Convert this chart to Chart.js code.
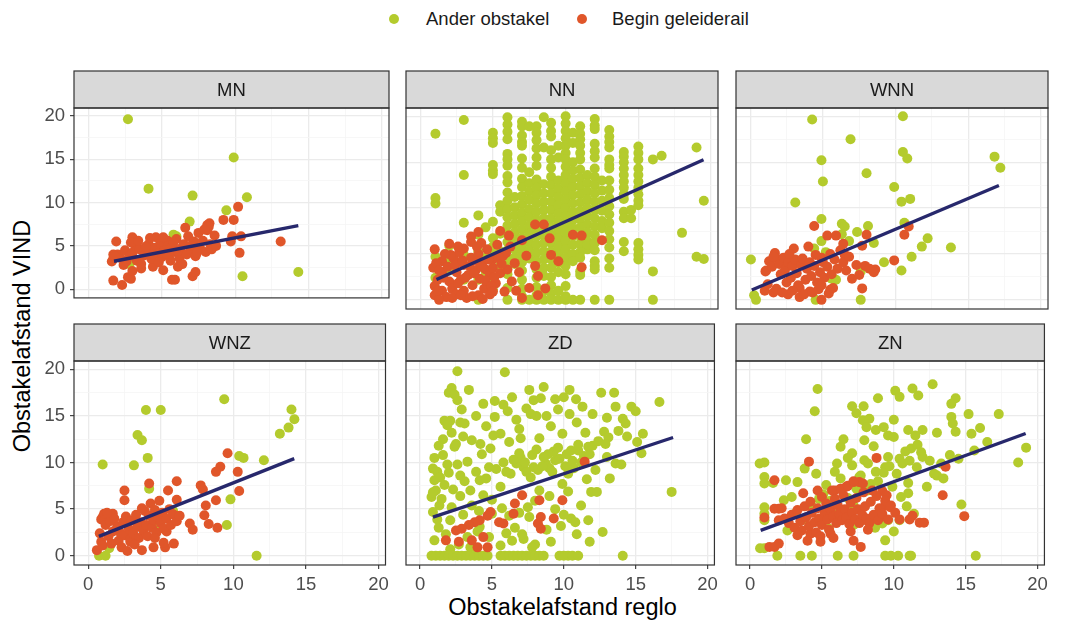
<!DOCTYPE html>
<html>
<head>
<meta charset="utf-8">
<script src="https://cdn.jsdelivr.net/npm/chart.js@4"></script>
<style>
  body { margin: 0; background: #fff; width: 1070px; height: 623px; position: relative; overflow: hidden; font-family: "Liberation Sans", Arial, sans-serif; }
  canvas { position: absolute; }
  .leg { position: absolute; top: 8px; font-size: 18.5px; color: #1a1a1a; line-height: 22px; }
  .dot { position: absolute; width: 10px; height: 10px; border-radius: 50%; top: 6px; }
  #xtitle { position: absolute; left: 74px; width: 977px; top: 593px; text-align: center; font-size: 23.5px; line-height: 28px; color: #000; }
  #ytitle { position: absolute; left: 22px; top: 336px; transform: translate(-50%, -50%) rotate(-90deg); white-space: nowrap; font-size: 23.5px; line-height: 28px; color: #000; }
</style>
</head>
<body>
<div class="leg" style="left:426px"><span class="dot" style="left:-37px;background:#b4cb2d"></span>Ander obstakel</div>
<div class="leg" style="left:612px"><span class="dot" style="left:-35px;background:#e0562a"></span>Begin geleiderail</div>
<div id="xtitle">Obstakelafstand reglo</div>
<div id="ytitle">Obstakelafstand VIND</div>
<script>
const panelNames = ['MN', 'NN', 'WNN', 'WNZ', 'ZD', 'ZN'];
const seriesNames = ['Ander obstakel', 'Begin geleiderail'];
const gridValues = [0, 2.5, 5, 7.5, 10, 12.5, 15, 17.5, 20];
const labelValues = [0, 5, 10, 15, 20];
const xRange = [-0.975, 20.475];
const yRange = [-0.995, 20.9];

// MN
const mnGreen = [[2.7,19.6],[9.9,15.2],[4.1,11.6],[7.1,10.8],[10.8,10.6],[9.4,9.1],[6.9,7.8],[5.8,6.3],[6.0,6.1],[10.5,1.5],[14.3,2.0],[2.8,2.9]];
const mnRed = [[10.2,9.5],[9.2,8.0],[9.9,8.0],[8.1,7.4],[8.25,7.6],[6.6,7.1],[9.8,6.1],[10.4,6.1],[9.7,5.5],[13.1,5.5],[10.3,4.2],[1.9,5.5],[3.0,6.0],[4.6,6.0],[1.7,4.0],[1.7,3.5],[1.7,1.0],[2.3,0.5],[2.7,1.4],[2.9,1.2],[3.0,2.1],[3.6,2.4],[4.4,2.6],[5.1,2.2],[5.7,1.1],[5.9,1.1],[7.1,1.5],[7.3,2.0],[6.1,2.6],[4.8,4.9],[5.3,5.5],
  [2,4],[2.2,3.6],[2.5,4.5],[2.8,3.8],[3,4.2],[3.2,5],[3.3,3.3],[3.5,4.6],[3.8,3.9],[4,4.4],[4.1,5.2],[4.3,3.5],[4.5,4.8],[4.7,4.1],[4.9,5.3],[5,3.7],[5.2,4.5],[5.4,5.6],[5.5,3.9],[5.7,4.9],[5.9,4.3],[6,5.8],[6.2,3.6],[6.3,4.7],[6.5,5.2],[6.7,4],[6.8,6.1],[7,4.6],[7.2,5.5],[7.3,3.8],[7.5,6.5],[7.6,4.8],[7.8,5.6],[8,4.3],[8.1,6.8],[8.3,5.2],[8.4,4.6],[8.6,6.2],[8.7,5],[8.2,7.2],[7.9,6.9],
  [1.6,3.2],[1.8,3.8],[2.4,2.8],[2.6,3.2],[3.6,2.9],[4.8,3.1],[5.6,3.3],[6.4,2.9],[3.9,4.9],[4.4,4.0],[5.3,4.1],[6.1,4.4],[6.9,5],[7.4,4.2],[2.9,5.4],[3.4,5.6],[4.2,5.9],[5.1,6.0],[5.8,5.4]];
const mnLine = [[1.75,3.23],[14.3,7.33]];

// NN (green drawn in vertical columns: [x, [y values]])
const nnGreenColumns = [
  [1.05,[18.1,11.1,10.5,4.7,2.4]],
  [2.0,[5.9,4.3,3.2]],
  [3.0,[19.6,13.6,8.4,4.9,2.2]],
  [4.0,[9.2,7.1,5.3,2.2,0]],
  [4.5,[7.9,4.6,3.1]],
  [5.0,[18.2,17.6,17.1,14.7,14.1,13.7,8.5,6.7,5.8,4.9,2.4,1.1]],
  [5.5,[10.3,9.6,7.2,5.3,3.7]],
  [6.0,[19.9,19.1,18.3,17.5,15.9,15.3,14.6,13.5,12.8,11.7,10.8,9.9,9.0,8.1,7.2,6.3,5.4,4.5,3.6,2.8,1.3,0]],
  [6.5,[11.2,10.1,9.2,8.3,7.4,6.5,5.5,4.6,3.9]],
  [7.0,[19.4,18.9,17.9,17.2,16.8,15.4,14.4,13.2,12.3,11.3,10.4,9.5,8.6,7.7,6.8,5.9,5.0,4.1,3.2,2.2,1.2,0.4,0]],
  [7.5,[18.9,13.9,12.7,11.8,10.9,9.9,9.0,8.1,7.2,6.3,5.4,4.5,0]],
  [8.0,[18.9,18.2,17.4,16.5,15.5,14.6,13.1,12.2,11.4,10.5,9.6,8.7,7.8,6.9,6.0,5.1,4.2,3.3,2.4,1.4,0.5,0]],
  [8.5,[19.9,16.6,12.6,11.6,10.7,9.8,8.9,8.0,7.1,6.2,5.3,4.4,3.5,2.6,1.0,0]],
  [9.0,[19.3,18.4,17.8,16.3,15.3,14.4,13.4,12.5,11.6,10.7,9.8,8.9,8.0,7.1,6.2,5.3,4.4,3.5,2.5,1.6,0.7,0]],
  [9.5,[16.8,15.5,13.0,12.1,11.2,10.3,9.4,8.5,7.6,6.7,5.8,4.9,4.0,3.0,1.0,0]],
  [10.0,[20.0,19.2,18.4,17.6,16.8,16.0,15.3,14.5,13.6,12.7,11.8,10.9,10.0,9.1,8.2,7.3,6.4,5.5,4.6,3.7,2.8,1.5,0.4,0]],
  [10.5,[18.2,17.1,15.0,14.1,13.2,12.3,11.4,10.5,9.6,8.7,7.8,6.9,6.0,5.0,4.2,0]],
  [11.0,[18.9,18.1,17.5,16.8,16.0,15.3,14.2,13.3,12.4,11.5,10.6,9.7,8.8,7.9,7.0,6.1,5.2,4.6,3.1,2.7,0]],
  [11.5,[13.6,12.7,11.8,10.9,10.0,9.1,8.2,7.3,6.4,5.5,6.0]],
  [12.0,[19.7,19.0,18.6,17.0,16.2,15.5,14.3,13.4,12.5,11.6,10.7,9.8,8.9,8.0,7.1,6.2,5.4,4.2,3.7,3.3,0]],
  [12.5,[13.0,11.9,10.8,9.7,8.6,7.8]],
  [13.0,[18.5,17.8,17.2,16.6,15.3,14.7,14.3,13.0,12.0,11.1,10.2,9.3,8.4,7.5,6.6,5.7,4.5,3.5,0]],
  [14.0,[16.1,15.6,15.0,14.3,13.6,12.9,12.2,11.5,11.0,9.6,8.9,6.3,5.3]],
  [14.5,[8.9,9.8]],
  [15.0,[16.7,16.0,15.3,14.3,13.6,12.9,12.2,11.5,10.8,10.3,6.2,5.5,4.9,4.4]],
  [16.0,[15.3,3.1,0]],
  [16.6,[15.7]],
  [18.0,[7.3]],
  [19.0,[16.6,4.7]],
  [19.5,[10.8,4.45]]
];
const nnRed = [[1.0,5.5],[1.0,1.5],[1.0,0.5],[1.2,2.2],[1.5,1.0],[1.5,3.0],[1.8,0.3],[2.0,6.1],[2.0,2.0],[2.2,1.2],[2.3,4.5],[2.5,0.6],[2.5,3.0],[2.8,2.2],[3.0,5.6],[3.0,1.0],[3.0,3.8],[3.2,0.2],[3.3,2.7],[3.5,6.3],[3.5,4.6],[3.6,1.6],[3.8,3.2],[4.0,7.4],[4.0,0.5],[4.0,5.0],[4.1,2.3],[4.3,4.1],[4.4,1.2],[4.5,3.3],[4.6,5.5],[4.8,0.6],[4.8,2.7],[5.0,4.4],[5.0,3.5],[5.2,1.8],[5.3,6.0],[5.5,7.5],[5.5,2.9],[5.7,4.8],[5.8,0.9],[6.0,3.3],[6.2,5.8],[6.3,2.0],[6.5,4.0],[6.8,3.0],[7.0,6.5],[7.3,4.8],[7.5,1.3],[7.9,3.7],[7.9,8.2],[8.1,2.6],[8.1,0.5],[8.5,8.2],[8.6,1.25],[8.9,6.7],[9.0,4.9],[9.5,4.2],[10.5,7.1],[11.1,7.0],[11.1,3.55],[12.5,6.5],[3.5,6.9],[1.5,4.2],[2.7,5.2],[0.9,3.5],[1.3,0.0],[4.2,6.2],[6.1,7.0],[5.9,5.1],
  [1.1,4.0],[1.3,3.2],[1.6,2.4],[1.9,3.6],[2.1,4.9],[2.4,3.8],[2.6,1.8],[2.9,4.3],[3.1,2.4],[3.4,3.7],[3.7,2.9],[3.9,4.2],[4.2,3.6],[4.5,2.1],[4.7,4.4],[4.9,1.5],[5.1,2.5],[5.4,4.6],[5.6,3.9],[2.2,0.2],[2.8,0.5],[3.6,0.4],[4.3,0.1],[5.0,0.9],[1.7,5.0],[2.6,5.8],[3.9,5.8],[1.2,1.0],[6.6,1.0],[7.0,0.2]];
const nnLine = [[1.12,2.22],[19.48,15.26]];

// WNN
const wnnGreen = [[4.26,19.65],[10.5,20.0],[6.9,17.5],[4.9,15.2],[10.5,16.1],[10.8,15.4],[16.8,15.6],[17.2,14.4],[5.0,12.9],[8.0,13.8],[9.9,12.3],[3.1,10.6],[10.4,10.7],[11.0,11.0],[4.9,8.8],[6.3,8.3],[6.5,8.0],[8.1,8.05],[7.35,7.4],[10.6,8.4],[4.9,6.4],[6.3,7.15],[6.8,6.4],[8.5,6.2],[12.2,6.7],[11.8,5.8],[13.8,5.7],[11.1,4.7],[9.2,4.1],[10.4,3.2],[0.05,4.4],[0.27,0.5],[0.4,0.0],[4.5,0],[7.6,0],[5.6,2.3],[5.9,2.2],[4.4,5.6],[5.2,5.2],[7.6,3.1]];
const wnnRed = [[4.4,8.05],[5.3,7.0],[5.9,7.0],[6.4,6.1],[8.0,7.1],[7.7,5.9],[10.6,7.1],[10.9,8.0],[9.9,4.3],[8.6,3.3],[7.9,3.7],[7.0,2.3],[7.7,1.25],[4.9,0],[3.4,0.3],[1.7,5.1],[1.05,3.1],[1.0,1.0],[1.6,0.8],[2.6,0.6],[3.4,1.3],[4.1,0.9],[4.7,1.15],[5.5,1.1],[6.5,4.9],[4.9,4.6],
  [1.1,3.2],[1.3,4.2],[1.5,3.6],[1.8,4.5],[2.0,3.9],[2.1,2.8],[2.3,4.6],[2.4,3.3],[2.5,1.9],[2.6,4.1],[2.8,2.4],[2.9,3.7],[3.1,4.4],[3.2,2.9],[3.3,1.6],[3.5,3.8],[3.6,4.5],[3.8,2.2],[3.9,3.4],[4.1,4.1],[4.2,2.6],[4.4,3.7],[4.5,4.9],[4.6,1.9],[4.8,3.0],[5.0,4.1],[5.1,2.4],[5.3,3.6],[5.5,5.0],[5.6,2.8],[5.8,4.4],[6.0,3.4],[6.2,5.4],[6.4,4.1],[6.6,3.2],[6.8,4.7],[7.3,3.8],[7.5,2.7],[8.2,3.4],[8.5,3.0],[1.2,1.7],[1.8,1.2],[2.2,0.8],[2.9,1.0],[3.7,0.6],[4.3,0.8],[4.9,1.6],[5.4,0.7],[5.7,1.3],[3.0,5.6],[4.0,5.8],[1.6,4.7],[2.7,5.0]];
const wnnLine = [[0.11,1.08],[17.1,12.46]];

// WNZ
const wnzGreen = [[9.37,16.8],[3.98,15.65],[5.0,15.65],[14.0,15.7],[14.2,14.65],[13.8,13.75],[13.2,13.1],[3.4,12.95],[3.7,12.4],[1.0,9.8],[3.15,9.7],[4.1,10.5],[10.4,10.7],[10.7,10.5],[12.1,10.25],[9.8,6.05],[4.2,7.2],[9.55,3.3],[11.6,0],[0.75,0],[1.2,0],[1.45,0.8],[4.7,3.4],[5.85,4.8]];
const wnzRed = [[9.6,11.0],[9.1,9.55],[8.8,9.0],[10.3,9.0],[10.4,6.95],[8.8,5.95],[7.75,7.55],[7.9,7.1],[8.1,5.4],[8.0,4.35],[8.3,3.4],[8.9,3.0],[7.0,3.45],[7.2,2.8],[6.1,8.0],[5.5,7.0],[4.2,7.75],[2.5,7.0],[2.5,5.95],[1.0,4.15],[1.7,4.5],[0.6,0.6],[0.9,1.5],[3.7,0.6],[4.5,0.9],[5.3,0.9],[5.9,1.3],[5.4,2.6],[2.9,1.5],
  [0.9,3.9],[1.1,4.5],[1.2,3.3],[1.4,2.1],[1.5,3.7],[1.7,2.6],[1.8,4.0],[2.0,3.1],[2.1,1.6],[2.2,2.5],[2.4,3.6],[2.5,2.2],[2.6,4.2],[2.8,2.9],[2.9,1.8],[3.0,3.8],[3.1,2.4],[3.3,4.4],[3.4,3.1],[3.5,1.9],[3.6,3.6],[3.8,2.7],[3.9,4.8],[4.0,3.3],[4.1,2.1],[4.2,4.3],[4.3,5.6],[4.4,3.0],[4.5,3.8],[4.6,4.9],[4.7,2.5],[4.8,4.1],[4.9,5.9],[5.0,3.5],[5.1,4.6],[5.2,2.9],[5.4,4.0],[5.6,5.0],[5.7,3.3],[5.9,4.4],[6.1,3.7],[6.3,4.3],[1.3,4.6],[1.0,1.1],[1.6,1.3],[0.8,2.4],[2.3,0.9],[3.2,1.2],[2.7,0.5],[4.6,1.9],[5.2,1.4],[6.1,6.0],[3.7,5.1]];
const wnzLine = [[0.74,2.08],[14.19,10.43]];

// ZD
const zdGreen = [[2.6,19.8],[5.9,19.7],[2.2,18.0],[3.4,17.8],[2.0,17.5],[2.4,17.3],[2.6,16.7],[1.7,14.5],[2.1,14.5],[2.8,14.3],[3.1,14.2],[5.2,16.6],[5.8,16.2],[5.2,14.9],[7.6,17.8],[8.6,18.1],[7.9,16.7],[7.4,15.8],[6.7,14.6],[8.1,15.0],[8.8,15.0],[9.4,16.8],[10.0,17.0],[10.4,17.8],[10.85,16.8],[11.3,16.0],[12.6,17.5],[13.5,17.5],[13.6,16.0],[14.7,16.0],[14.1,14.7],[14.3,14.2],[16.65,16.5],[12.8,13.3],[14.4,12.8],[15.5,13.1],[15.4,11.0],[13.6,9.9],[13.0,10.6],[17.5,6.85],[11.9,6.85],[12.3,6.85],[11.7,3.8],[12.7,2.55],[11.8,1.5],
  [2.4,11.7],[3.6,12.4],[1.6,10.8],[0.9,9.35],[1.0,8.1],[0.8,6.3],[1.35,5.4],[2.1,3.8],[1.0,1.65],[5.6,13.1],[6.2,12.2],[4.8,9.5],[5.6,7.4],[4.15,8.1],[7.2,9.5],[7.9,9.5],[8.75,9.9],[9.4,10.25],[10.5,11.3],[11.0,11.3],[11.7,11.7],[9.9,7.7],[10.3,8.8],[7.6,4.15],[10.5,4.0],[9.1,1.5],[7.2,1.8],[4.15,3.1],[4.8,2.0],
  [1.0,10.5],[1.2,9.0],[1.4,8.4],[1.7,7.6],[2.0,8.9],[2.3,7.1],[2.6,9.8],[1.1,7.0],[0.9,6.8],[1.5,6.1],[2.2,5.2],[2.8,6.4],[3.1,8.0],[3.3,10.1],[3.9,9.0],[4.3,10.9],[4.6,8.3],[5.0,6.0],[5.3,9.3],[5.8,10.0],[6.3,8.8],[6.7,9.9],[7.0,10.5],[7.4,9.0],[7.7,8.4],[8.2,9.2],[8.6,10.6],[9.0,9.4],[9.3,11.2],[9.7,10.4],[10.1,9.6],[10.6,10.2],[11.0,11.9],[11.4,10.7],[12.0,11.8],[12.4,12.3],[13.1,12.7],[13.8,13.4],[4.0,2.6],[3.3,2.0],[2.7,1.2],[1.8,2.3],[1.3,3.0],[5.6,1.1],[6.4,1.6],[7.1,2.3],[6.6,3.0],[8.0,1.2],[8.8,2.8],[9.4,5.0],[10.0,4.4],[10.8,3.6],[11.2,5.4],[7.5,5.2],[6.2,4.3],[5.7,5.1],[4.4,6.5],[3.6,5.4],[8.3,7.0],[9.0,6.4],[10.3,6.9],[11.6,8.2],[12.2,9.2],[3.0,12.8],[4.6,13.9],[6.9,13.6],[8.3,12.6],[9.1,13.9],[10.9,14.3],[11.5,13.2],[7.7,15.2],[9.6,15.7],[6.1,15.5],[3.9,15.0],[2.9,15.7],[1.9,14.0],[2.5,12.0],[1.6,12.5],[14.0,9.8],[13.2,8.3],
  [6.5,10.3],[6.9,11.0],[7.3,10.0],[7.8,10.8],[8.1,11.4],[8.5,9.6],[8.9,10.9],[9.2,9.0],[9.6,11.6],[10.2,10.9],[10.7,9.4],[11.2,10.0],[11.8,10.9],[6.0,9.0],[4.9,11.5],[4.2,12.0],[3.5,7.0],[2.8,8.6],[1.9,9.8],[1.3,11.8],[2.2,13.2],[0.9,4.7],[1.2,3.9],[3.0,4.4],[4.1,4.8],[5.0,4.5],[6.9,4.6],[8.0,5.9],[9.8,3.2],[10.9,2.3],[7.8,0.9],[6.0,2.4],[3.5,0.9],[2.1,0.7],[5.1,12.9],[7.0,12.6],[9.9,13.1],[10.4,15.2],[8.4,16.9],[6.4,17.0],[4.4,16.3],[12.0,15.2],[13.0,14.8],[15.0,15.5],[12.9,12.0],[15.1,12.2],
  [0.8,0],[1.1,0],[1.4,0],[1.7,0],[2.0,0],[2.3,0],[2.6,0],[2.9,0],[3.2,0],[3.5,0],[3.8,0],[4.1,0],[4.4,0],[4.7,0],[5.6,0],[5.9,0],[6.2,0],[6.5,0],[6.8,0],[7.1,0],[7.4,0],[7.7,0],[8.0,0],[8.3,0],[8.6,0],[9.7,0],[10.0,0],[10.3,0],[10.6,0],[11.0,0],[14.1,0]];
const zdRed = [[11.45,10.1],[7.1,6.5],[6.6,5.6],[6.5,4.5],[8.3,5.95],[9.9,5.95],[9.3,4.0],[8.4,4.15],[8.2,3.45],[8.4,2.9],[5.5,3.6],[4.9,4.7],[4.7,4.3],[4.15,3.8],[3.8,3.6],[3.4,3.3],[2.9,2.9],[2.5,2.7],[1.8,1.65],[2.7,1.5],[3.6,1.65],[4.0,0.9],[4.7,0.9],[4.4,2.0],[5.8,3.45]];
const zdLine = [[0.9,4.15],[17.6,12.69]];

// ZN
const znGreen = [[12.7,18.4],[11.3,17.95],[11.7,17.2],[10.1,17.7],[10.4,17.05],[8.9,16.9],[4.7,17.9],[4.5,15.5],[7.1,16.05],[7.9,16.05],[7.4,15.3],[7.85,14.55],[8.3,14.7],[8.1,13.8],[10.0,14.6],[9.3,13.8],[8.75,13.5],[9.6,12.9],[10.0,12.75],[11.0,13.5],[12.0,13.5],[11.5,12.9],[13.0,13.2],[14.3,16.9],[14.0,16.3],[14.0,14.9],[14.1,14.2],[14.3,13.3],[15.2,15.2],[16.0,13.7],[15.4,13.1],[17.3,15.2],[19.2,11.6],[18.65,10.0],[3.9,12.5],[6.5,12.5],[6.3,11.7],[7.1,11.0],[7.95,12.4],[8.6,11.75],[6.05,9.9],[7.1,9.7],[7.95,10.25],[8.75,9.0],[9.4,9.5],[10.4,10.4],[11.2,11.5],[11.65,11.9],[11.9,11.1],[13.9,10.8],[13.0,8.6],[13.45,8.3],[12.3,7.4],[14.7,5.5],[0.67,9.9],[1.0,10.0],[1.0,8.45],[1.0,7.75],[1.6,7.8],[2.5,8.1],[3.3,7.9],[1.0,5.2],[1.0,4.5],[1.0,3.8],[2.35,5.95],[2.6,2.7],[0.7,0.8],[1.0,0.8],
  [1.9,0],[3.5,0],[4.3,0],[6.1,0],[7.2,0],[9.4,0],[9.8,0],[10.3,0],[11.1,0],[11.2,0],[15.7,0],[9.4,1.65],[5.3,7.6],[4.6,8.8],[3.8,9.35],[9.9,7.4],[10.5,6.3],[11.0,6.7],[11.4,4.5],[9.2,3.45],[9.6,3.8],[10.4,3.8],[5.5,4.15],[5.5,2.9],[3.6,3.8],[7.6,8.45],[8.2,7.0],[7.2,5.4],
  [5.1,6.6],[5.6,5.9],[6.3,8.3],[6.8,6.2],[7.4,7.2],[7.7,8.6],[8.4,7.7],[8.9,8.0],[9.3,8.9],[9.7,9.6],[10.2,8.8],[10.6,9.9],[11.1,10.2],[11.6,9.5],[12.0,10.6],[12.5,10.2],[10.8,11.2],[9.6,10.6],[8.2,9.9],[6.8,10.5],[5.9,9.0],[4.8,6.1],[4.3,5.3],[3.2,4.6],[2.9,6.3],[6.0,4.4],[7.2,3.3],[8.7,3.0],[10.0,2.6],[11.0,7.8],[12.8,8.8],[13.3,9.9],[14.5,10.4],[15.6,11.3],[16.5,12.2],[10.9,5.3]];
const znRed = [[4.1,10.1],[8.8,10.5],[13.6,9.55],[13.4,6.5],[14.9,4.25],[11.8,3.55],[12.1,3.55],[11.1,3.9],[7.2,1.6],[7.7,0.95],[1.7,8.1],[1.7,5.05],[2.0,5.05],[1.0,4.1],[1.35,0.95],[1.7,0.95],[2.0,1.3],[4.2,2.35],[4.9,1.5],[5.6,2.35],[3.7,6.7],[4.7,7.0],[5.9,7.0],[6.7,7.4],[7.2,7.9],[7.6,7.9],[7.85,7.75],[8.5,7.0],[9.2,6.95],[9.5,6.5],[9.4,5.4],[9.75,5.2],[9.1,4.15],[8.3,3.8],[7.85,3.8],
  [2.4,4.0],[2.7,3.5],[2.9,4.4],[3.1,3.0],[3.3,4.9],[3.5,3.7],[3.6,2.7],[3.8,5.3],[3.9,4.1],[4.1,3.2],[4.2,5.8],[4.3,4.6],[4.5,3.6],[4.6,2.5],[4.7,5.1],[4.8,4.0],[5.0,6.3],[5.0,3.3],[5.2,4.6],[5.3,5.6],[5.4,3.9],[5.5,2.8],[5.6,5.0],[5.8,4.2],[5.9,6.1],[6.0,3.5],[6.1,5.4],[6.2,4.5],[6.4,3.8],[6.5,6.5],[6.6,5.0],[6.7,4.1],[6.9,3.4],[7.0,5.7],[7.1,4.6],[7.3,3.9],[7.4,6.2],[7.5,5.0],[7.6,3.5],[7.8,4.4],[7.9,6.8],[8.0,5.3],[8.1,4.0],[8.3,3.5],[8.4,5.8],[8.6,4.4],[8.8,6.4],[8.9,3.8],[9.0,5.1],[9.2,4.5],[9.4,5.9],[9.6,3.9],[9.8,5.4],[6.3,7.2],[6.8,7.5],[7.2,8.0],[5.7,7.0],[4.9,2.1],[4.0,1.6],[5.8,1.9],[3.3,2.2],[2.0,3.8],[2.2,5.1],[7.0,2.6],[8.2,2.8],[10.1,4.6],[10.4,3.9],[11.3,4.3]];
const znLine = [[0.74,2.72],[19.17,13.12]];

const nnGreen = [];
nnGreenColumns.forEach(([x, ys]) => ys.forEach(y => nnGreen.push([x, y])));

const panels = [
  { green: mnGreen, red: mnRed, line: mnLine },
  { green: nnGreen, red: nnRed, line: nnLine },
  { green: wnnGreen, red: wnnRed, line: wnnLine },
  { green: wnzGreen, red: wnzRed, line: wnzLine },
  { green: zdGreen, red: zdRed, line: zdLine },
  { green: znGreen, red: znRed, line: znLine }
];

const GREEN = '#b4cb2d', RED = '#e0562a', NAVY = '#27286c';
const plotLeft = [74, 403, 733], plotTop = [108, 361];
const plotW = 318, plotH = 204, stripH = 37;
const FONT = '"Liberation Sans", Arial, sans-serif';

Chart.defaults.font.family = FONT;

const facetFrame = {
  id: 'facetFrame',
  afterDraw(chart, args, opts) {
    const { ctx, chartArea: a } = chart;
    ctx.save();
    ctx.fillStyle = '#d9d9d9';
    ctx.fillRect(a.left, a.top - stripH, a.right - a.left, stripH);
    ctx.strokeStyle = '#333333';
    ctx.lineWidth = 1.2;
    ctx.strokeRect(a.left, a.top - stripH, a.right - a.left, stripH);
    ctx.strokeRect(a.left, a.top, a.right - a.left, a.bottom - a.top);
    ctx.fillStyle = '#1a1a1a';
    ctx.font = '18.5px ' + FONT;
    ctx.textAlign = 'center';
    ctx.textBaseline = 'middle';
    ctx.fillText(opts.label, (a.left + a.right) / 2, a.top - stripH / 2 + 1);
    ctx.restore();
  }
};

const isMajor = c => c.tick && labelValues.includes(c.tick.value);

function makeAxis(range, show, isX) {
  return {
    type: 'linear', min: range[0], max: range[1],
    afterBuildTicks: s => { s.ticks = gridValues.map(v => ({ value: v })); },
    afterFit: s => { if (isX) s.height = show ? 32 : 0; else s.width = show ? 34 : 0; },
    border: { display: false },
    grid: {
      color: c => isMajor(c) ? '#ebebeb' : '#f5f5f5',
      lineWidth: c => isMajor(c) ? 1.3 : 0.8,
      drawTicks: show,
      tickLength: 4,
      tickWidth: 1.1,
      tickColor: c => isMajor(c) ? '#333333' : 'rgba(0,0,0,0)'
    },
    ticks: {
      display: show, autoSkip: false, maxRotation: 0,
      padding: 5,
      color: '#4d4d4d',
      font: { size: 18.5 },
      callback: v => labelValues.includes(v) ? String(v) : ''
    }
  };
}

const toXY = arr => arr.map(p => ({ x: p[0], y: p[1] }));

panels.forEach((p, i) => {
  const r = Math.floor(i / 3), c = i % 3;
  const padL = c === 0 ? 0 : 2, yW = c === 0 ? 34 : 0;
  const padTop = stripH + 2, padBottom = 2, padRight = 2;
  const xH = r === 1 ? 32 : 0;
  const w = padL + yW + plotW + padRight;
  const h = padTop + plotH + xH + padBottom;
  const cv = document.createElement('canvas');
  cv.width = w; cv.height = h;
  cv.style.left = (plotLeft[c] - yW - padL) + 'px';
  cv.style.top = (plotTop[r] - padTop) + 'px';
  cv.style.width = w + 'px'; cv.style.height = h + 'px';
  document.body.appendChild(cv);
  new Chart(cv.getContext('2d'), {
    type: 'scatter',
    data: {
      datasets: [
        { type: 'line', data: toXY(p.line), borderColor: NAVY, borderWidth: 3.4, pointRadius: 0, fill: false },
        { label: seriesNames[1], data: toXY(p.red), backgroundColor: RED, pointRadius: 5, pointBorderWidth: 0, pointHoverRadius: 5 },
        { label: seriesNames[0], data: toXY(p.green), backgroundColor: GREEN, pointRadius: 5, pointBorderWidth: 0, pointHoverRadius: 5 }
      ]
    },
    options: {
      responsive: false, animation: false, events: [],
      layout: { padding: { top: padTop, left: padL, right: padRight, bottom: padBottom } },
      scales: { x: makeAxis(xRange, r === 1, true), y: makeAxis(yRange, c === 0, false) },
      plugins: { legend: { display: false }, tooltip: { enabled: false }, facetFrame: { label: panelNames[i] } }
    },
    plugins: [facetFrame]
  });
});
</script>
</body>
</html>
